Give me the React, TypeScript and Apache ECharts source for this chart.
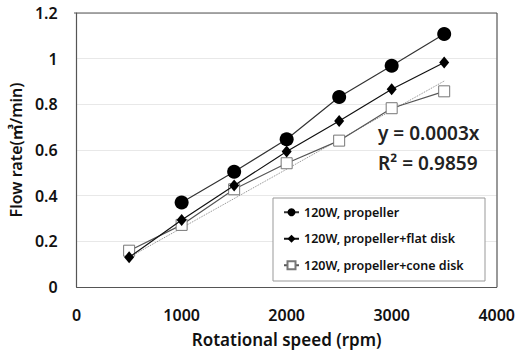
import React, { useEffect, useRef } from "react";
import * as echarts from "echarts";

const rpm = [500, 1000, 1500, 2000, 2500, 3000, 3500];
const propeller: (number | null)[] = [null, 0.37, 0.505, 0.647, 0.832, 0.969, 1.108];
const flatDisk = [0.13, 0.293, 0.445, 0.593, 0.727, 0.866, 0.983];
const coneDisk = [0.159, 0.272, 0.428, 0.542, 0.641, 0.783, 0.857];
const trendX = [500, 3500];
const trendY = [0.13, 0.902];
const seriesNames = ["120W, propeller", "120W, propeller+flat disk", "120W, propeller+cone disk"];
const xTicks = { min: 0, max: 4000, interval: 1000 };
const yTicks = { min: 0, max: 1.2, interval: 0.2 };

const FONT = "'Noto Sans', 'Noto Sans CJK KR', sans-serif";
const W = 600;

export default function App() {
  const ref = useRef<HTMLDivElement>(null);
  useEffect(() => {
    if (!ref.current) return;
    const chart = echarts.init(ref.current, null, { renderer: "svg" });
    const pair = (ys: (number | null)[]) =>
      rpm.map((x, i) => [x, ys[i]]).filter((p) => p[1] !== null);
    chart.setOption({
      animation: false,
      textStyle: { fontFamily: FONT },
      grid: { left: 74, right: 21, top: 13, bottom: 70, show: false },
      xAxis: {
        type: "value",
        ...xTicks,
        name: "Rotational speed (rpm)",
        nameLocation: "middle",
        nameGap: 44,
        nameTextStyle: { fontSize: 17, fontWeight: W, color: "#111", fontFamily: FONT },
        axisLine: { show: true, lineStyle: { color: "#555", width: 1.2 } },
        axisTick: { show: false },
        axisLabel: { fontSize: 16, fontWeight: W, color: "#111", margin: 20, fontFamily: FONT, formatter: (v: number) => String(v) },
        splitLine: { show: false },
      },
      yAxis: {
        type: "value",
        ...yTicks,
        name: "Flow rate(㎥/min)",
        nameLocation: "middle",
        nameGap: 50,
        nameRotate: 90,
        nameTextStyle: { fontSize: 16, fontWeight: W, color: "#111", fontFamily: FONT },
        axisLine: { show: true, lineStyle: { color: "#555", width: 1.2 } },
        axisTick: { show: false },
        axisLabel: { fontSize: 16, fontWeight: W, color: "#111", margin: 19, fontFamily: FONT },
        splitLine: { show: true, lineStyle: { color: "#e8e8e8", width: 1 } },
      },
      legend: {
        orient: "vertical",
        left: 283,
        top: 206,
        padding: 0,
        itemGap: 14,
        itemWidth: 15,
        itemHeight: 10,
        data: seriesNames,
        textStyle: { fontSize: 12.5, fontWeight: W, color: "#111", fontFamily: FONT },
        z: 20,
      },
      graphic: [
        {
          type: "rect",
          shape: { x: 273, y: 198, width: 212, height: 83 },
          style: { fill: "#fff", stroke: "#999", lineWidth: 1 },
          z: 10,
        },
        {
          type: "line",
          shape: { x1: 497, y1: 13, x2: 497, y2: 287 },
          style: { stroke: "#555", lineWidth: 1.2 },
          z: 5,
        },
        {
          type: "line",
          shape: { x1: 74, y1: 13, x2: 497, y2: 13 },
          style: { stroke: "#555", lineWidth: 1.2 },
          z: 5,
        },
        {
          type: "text",
          x: 378,
          y: 133,
          style: { text: "y = 0.0003x", fill: "#222", font: `${W} 19px ${FONT}`, verticalAlign: "middle" },
          z: 10,
        },
        {
          type: "text",
          x: 378,
          y: 163,
          style: { text: "R² = 0.9859", fill: "#222", font: `${W} 19px ${FONT}`, verticalAlign: "middle" },
          z: 10,
        },
      ],
      series: [
        {
          name: "trend",
          type: "line",
          data: trendX.map((x, i) => [x, trendY[i]]),
          symbol: "none",
          lineStyle: { color: "#888", width: 1, type: [1, 1] },
          z: 1,
        },
        {
          name: seriesNames[0],
          type: "line",
          data: pair(propeller),
          symbol: "circle",
          symbolSize: 14,
          itemStyle: { color: "#000" },
          lineStyle: { color: "#333", width: 1.2 },
          z: 4,
        },
        {
          name: seriesNames[1],
          type: "line",
          data: pair(flatDisk),
          symbol: "diamond",
          symbolSize: [10, 12],
          itemStyle: { color: "#000" },
          lineStyle: { color: "#111", width: 1.2 },
          z: 3,
        },
        {
          name: seriesNames[2],
          type: "line",
          data: pair(coneDisk),
          symbol: "rect",
          symbolSize: 11,
          itemStyle: { color: "#fff", borderColor: "#777", borderWidth: 1 },
          lineStyle: { color: "#555", width: 1.2 },
          z: 2,
        },
      ],
    });
    return () => chart.dispose();
  }, []);
  return <div ref={ref} style={{ width: 518, height: 357, position: "absolute", left: 0, top: 0 }} />;
}
